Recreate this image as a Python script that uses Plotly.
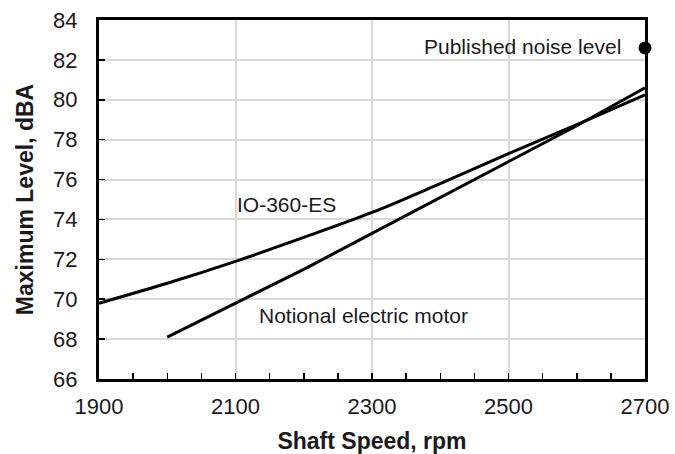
import plotly.graph_objects as go

# Data
io_rpm = [1900, 2000, 2100, 2200, 2300, 2400, 2500, 2600, 2700]
io_dba = [69.8, 70.8, 71.9, 73.1, 74.35, 75.8, 77.3, 78.75, 80.25]
em_rpm = [2000, 2100, 2200, 2300, 2400, 2500, 2600, 2700]
em_dba = [68.1, 69.8, 71.5, 73.3, 75.1, 76.9, 78.7, 80.6]
pub_rpm = [2700]
pub_dba = [82.6]

FONT = "Liberation Sans, Arial, sans-serif"

fig = go.Figure()
fig.add_trace(go.Scatter(x=io_rpm, y=io_dba, mode="lines", line=dict(color="black", width=3),
                         line_shape="spline", name="IO-360-ES"))
fig.add_trace(go.Scatter(x=em_rpm, y=em_dba, mode="lines", line=dict(color="black", width=3),
                         name="Notional electric motor"))
fig.add_trace(go.Scatter(x=pub_rpm, y=pub_dba, mode="markers", marker=dict(color="black", size=13),
                         cliponaxis=False, name="Published noise level"))

ann_font = dict(family=FONT, size=21, color="#1a1a1a")
fig.add_annotation(x=2175, y=74.77, text="IO-360-ES", showarrow=False, font=ann_font)
fig.add_annotation(x=2288, y=69.2, text="Notional electric motor", showarrow=False, font=ann_font)
fig.add_annotation(x=2521, y=82.66, text="Published noise level", showarrow=False, font=ann_font)

fig.update_layout(
    width=675, height=454,
    margin=dict(l=99, r=30, t=20, b=75),
    plot_bgcolor="white", paper_bgcolor="white",
    showlegend=False,
    font=dict(family=FONT, size=22, color="#1a1a1a"),
)
fig.update_xaxes(
    range=[1900, 2700], tickmode="linear", tick0=1900, dtick=200,
    automargin=False, ticklabeloverflow="allow", ticklabelstandoff=6,
    showgrid=True, gridcolor="#d9d9d9", gridwidth=2,
    showline=True, linecolor="black", linewidth=3, mirror=True,
    ticks="inside", ticklen=6, tickwidth=1.5, tickcolor="black",
    minor=dict(dtick=50, ticks="inside", ticklen=6, tickwidth=1.5, tickcolor="black", showgrid=False),
    tickfont=dict(family=FONT, size=22, color="#1a1a1a"),
    title=dict(text="<b>Shaft Speed, rpm</b>", font=dict(family=FONT, size=23, color="#1a1a1a"), standoff=15),
    zeroline=False,
)
fig.update_yaxes(
    range=[66, 84], tickmode="linear", tick0=66, dtick=2,
    automargin=False, ticklabeloverflow="allow", ticklabelstandoff=14,
    showgrid=True, gridcolor="#d9d9d9", gridwidth=2,
    showline=True, linecolor="black", linewidth=3, mirror=True,
    ticks="inside", ticklen=6, tickwidth=1.5, tickcolor="black",
    tickfont=dict(family=FONT, size=22, color="#1a1a1a"),
    title=dict(text="<b>Maximum Level, dBA</b>", font=dict(family=FONT, size=23, color="#1a1a1a"), standoff=14),
    zeroline=False,
)

fig.write_html("out.html",
               config={"displayModeBar": False, "staticPlot": True},
               post_script="document.body.style.margin='0';document.body.style.overflow='hidden';")
